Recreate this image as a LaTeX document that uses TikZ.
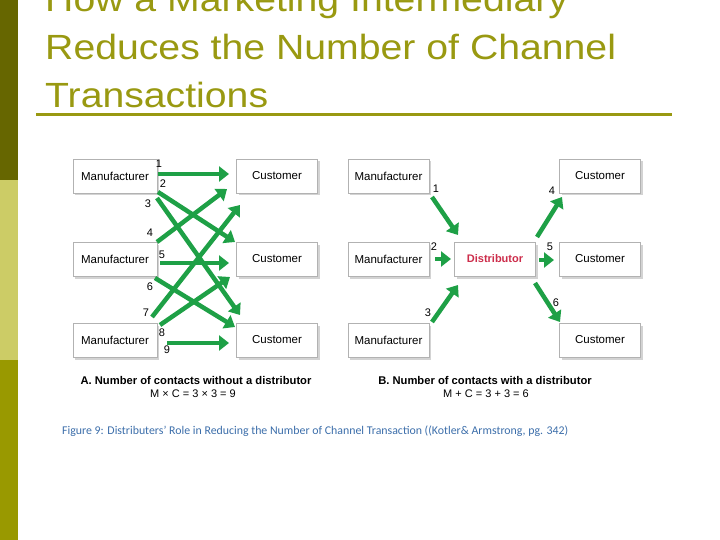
\documentclass[tikz,border=0pt]{standalone}
\usepackage{fontspec}
\setmainfont{Liberation Sans}
\newfontfamily\titlefont[FakeStretch=1.12]{Liberation Sans}
\newfontfamily\capfont{Carlito}
\usetikzlibrary{shadows,arrows.meta,calc}
\definecolor{bardark}{RGB}{102,102,0}
\definecolor{barlight}{RGB}{204,204,102}
\definecolor{barmid}{RGB}{153,153,0}
\definecolor{titleol}{RGB}{153,153,17}
\definecolor{arrgreen}{RGB}{30,160,70}
\definecolor{distred}{RGB}{205,45,75}
\definecolor{capblue}{RGB}{60,110,170}
\tikzset{
  box/.style={draw=gray!60, fill=white, minimum width=81pt, minimum height=34pt,
    inner sep=0pt, font=\fontsize{11.5}{13}\selectfont,
    drop shadow={shadow xshift=2pt, shadow yshift=-2.5pt, opacity=0.35, fill=gray}},
  flow/.style={draw=arrgreen, line width=4.5pt,
    -{Triangle[length=10pt,width=15pt]}},
  num/.style={inner sep=0pt, font=\fontsize{11}{12}\selectfont},
  ttl/.style={anchor=base west, inner sep=0pt, text=titleol,
    font=\titlefont\fontsize{35}{42}\selectfont}
}
\begin{document}
\begin{tikzpicture}[x=1pt,y=-1pt]
\useasboundingbox (0,0) rectangle (720,540);
\clip (0,0) rectangle (720,540);
% left bar
\fill[bardark] (0,0) rectangle (18,180);
\fill[barlight] (0,180) rectangle (18,360);
\fill[barmid] (0,360) rectangle (18,540);
% title
\node[ttl] (t1) at (45,12) {How a Marketing Intermediary};
\node[ttl] (t2) at (45,60) {Reduces the Number of Channel};
\node[ttl] (t3) at (45,108) {Transactions};
\draw[titleol, line width=3pt] (36,115) -- (672,115);

% ---------- Part A ----------
\node[box, minimum width=84pt] (am1) at (115,176) {Manufacturer};
\node[box, minimum width=84pt] (am2) at (115,259) {Manufacturer};
\node[box, minimum width=84pt] (am3) at (115,340) {Manufacturer};
\node[box] (ac1) at (277,176) {Customer};
\node[box] (ac2) at (277,259) {Customer};
\node[box] (ac3) at (277,340) {Customer};

\coordinate (a1s) at (158,174); \coordinate (a1e) at (229,174);
\coordinate (a2s) at (158,192); \coordinate (a2e) at (235,242);
\coordinate (a3s) at (157,198); \coordinate (a3e) at (240,315);
\coordinate (a4s) at (157,242); \coordinate (a4e) at (227,189);
\coordinate (a5s) at (160,263); \coordinate (a5e) at (229,263);
\coordinate (a6s) at (155,278); \coordinate (a6e) at (235,327);
\coordinate (a7s) at (152,317); \coordinate (a7e) at (240,205);
\coordinate (a8s) at (160,325); \coordinate (a8e) at (230,277);
\coordinate (a9s) at (167,343); \coordinate (a9e) at (229,343);
\foreach \i in {1,...,9} {\draw[flow] (a\i s) -- (a\i e);}

\node[num] (n1) at (159,164) {1};
\node[num] (n2) at (163,184) {2};
\node[num] (n3) at (148,204) {3};
\node[num] (n4) at (150,233) {4};
\node[num] (n5) at (162,255) {5};
\node[num] (n6) at (150,287) {6};
\node[num] (n7) at (146,313) {7};
\node[num] (n8) at (162,333) {8};
\node[num] (n9) at (167,350) {9};

% ---------- Part B ----------
\node[box] (bm1) at (388.5,176) {Manufacturer};
\node[box] (bm2) at (388.5,259) {Manufacturer};
\node[box] (bm3) at (388.5,340) {Manufacturer};
\node[box, text=distred, font=\bfseries\fontsize{11}{13}\selectfont] (bd) at (495,259) {Distributor};
\node[box] (bc1) at (600,176) {Customer};
\node[box] (bc2) at (600,259) {Customer};
\node[box] (bc3) at (600,340) {Customer};

\coordinate (b1s) at (432,197); \coordinate (b1e) at (458,235);
\coordinate (b2s) at (435,259); \coordinate (b2e) at (451,259);
\coordinate (b3s) at (432,322); \coordinate (b3e) at (458,285);
\coordinate (b4s) at (537,237); \coordinate (b4e) at (562,197);
\coordinate (b5s) at (539,260); \coordinate (b5e) at (554,260);
\coordinate (b6s) at (535,283); \coordinate (b6e) at (560,322);
\foreach \i in {1,...,6} {\draw[flow] (b\i s) -- (b\i e);}

\node[num] (m1) at (436,189) {1};
\node[num] (m2) at (434,247) {2};
\node[num] (m3) at (428,313) {3};
\node[num] (m4) at (552,191) {4};
\node[num] (m5) at (550,247) {5};
\node[num] (m6) at (556,303) {6};

% captions
\node[anchor=base, inner sep=0pt, font=\bfseries\fontsize{11.2}{13}\selectfont] (capA) at (196,384) {A. Number of contacts without a distributor};
\node[anchor=base, inner sep=0pt, font=\fontsize{11}{13}\selectfont] (eqA) at (193,397) {M × C = 3 × 3 = 9};
\node[anchor=base, inner sep=0pt, font=\bfseries\fontsize{11.2}{13}\selectfont] (capB) at (485,384) {B. Number of contacts with a distributor};
\node[anchor=base, inner sep=0pt, font=\fontsize{11}{13}\selectfont] (eqB) at (486,397) {M + C = 3 + 3 = 6};
\node[anchor=base west, inner sep=0pt, text=capblue, font=\capfont\fontsize{11.85}{13}\selectfont] (fig) at (62,434) {Figure 9: Distributers’ Role in Reducing the Number of Channel Transaction ((Kotler\& Armstrong, pg. 342)};
\end{tikzpicture}
\end{document}
